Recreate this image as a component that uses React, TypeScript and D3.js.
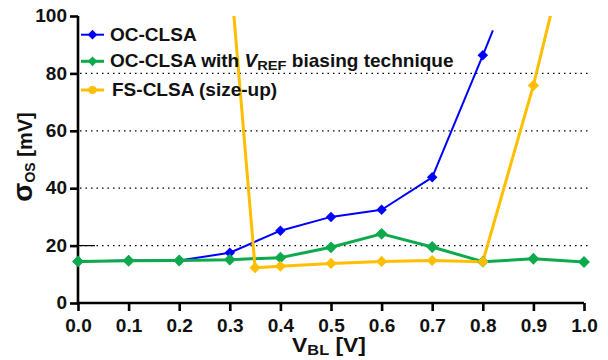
import React, { useEffect, useRef } from "react";
import * as d3 from "d3";

// sweep of bit-line voltage
const vbl = [0, 0.1, 0.2, 0.3, 0.4, 0.5, 0.6, 0.7, 0.8, 0.9, 1.0];

// OC-CLSA (blue) - last point goes off the top of the chart
const ocX = [0, 0.1, 0.2, 0.3, 0.4, 0.5, 0.6, 0.7, 0.8];
const ocVals = [14.5, 14.8, 14.8, 17.5, 25.2, 30.0, 32.5, 43.8, 86.3];
const ocTail = [0.82, 95];

// OC-CLSA with VREF biasing technique (green)
const vrefVals = [14.5, 14.7, 14.8, 15.1, 15.8, 19.4, 24.1, 19.5, 14.4, 15.4, 14.3];

// FS-CLSA (size-up) (yellow) - ends are clipped at 100
const fsX = [0.3, 0.35, 0.4, 0.5, 0.6, 0.7, 0.8, 0.9, 1.0];
const fsVals = [117, 12.3, 12.8, 13.8, 14.5, 14.8, 14.4, 75.8, 148];

const yTicks = [0, 20, 40, 60, 80, 100];
const gridVals = [20, 40, 60, 80];

const W = 608, H = 360;
const font = "'Liberation Sans', Arial, sans-serif";
const SX = 1.088; // text in the original is a bit wider than it is tall

export default function App() {
  const ref = useRef<SVGSVGElement>(null);

  useEffect(() => {
    const svg = d3.select(ref.current);
    svg.selectAll("*").remove();

    const x = d3.scaleLinear().domain([0, 1]).range([78, 584]);
    const y = d3.scaleLinear().domain([0, 100]).range([303, 16]);

    svg.append("defs").append("clipPath").attr("id", "plotClip")
      .append("rect").attr("x", 70).attr("y", 16).attr("width", 540).attr("height", 300);

    // dotted grid
    svg.append("g").selectAll("line").data(gridVals).enter().append("line")
      .attr("x1", 80).attr("x2", 588)
      .attr("y1", d => y(d)).attr("y2", d => y(d))
      .attr("stroke", "#000").attr("stroke-width", 1.2)
      .attr("stroke-dasharray", "1.5,4");

    // axes
    const yAxis = svg.append("g").attr("transform", "translate(78,0)")
      .call(d3.axisLeft(y).tickValues(yTicks).tickSize(8).tickPadding(3));
    const xAxis = svg.append("g").attr("transform", "translate(0,303)")
      .call(d3.axisBottom(x).tickValues(vbl).tickSize(8).tickPadding(8.5).tickFormat(d3.format(".1f")));
    [yAxis, xAxis].forEach(a => {
      a.select(".domain").attr("stroke-width", 2.6);
      a.selectAll(".tick line").attr("stroke-width", 2.6);
      a.selectAll("text").attr("font-family", font).attr("font-weight", "bold")
        .attr("font-size", 17.5).attr("fill", "#111")
        .attr("transform", `scale(${SX},1)`);
    });
    yAxis.selectAll(".tick text").attr("x", -11 / SX);
    yAxis.select(".domain").attr("d", `M0,${y(100)}V${y(0) + 1.3}`);
    xAxis.select(".domain").attr("d", `M${x(0) - 1.3},0H${x(1)}`);
    // small tick stub running past the axis at 20
    svg.append("line").attr("x1", 78).attr("x2", 95).attr("y1", y(20)).attr("y2", y(20))
      .attr("stroke", "#000").attr("stroke-width", 1.2);

    const plot = svg.append("g").attr("clip-path", "url(#plotClip)");
    const line = d3.line<[number, number]>().x(d => x(d[0])).y(d => y(d[1]));
    const diamond = d3.symbol().type(d3.symbolDiamond2);

    const series = [
      { pts: ocX.map((v, i) => [v, ocVals[i]] as [number, number]), extra: [ocTail as [number, number]], color: "#0000FF", w: 2, size: 70 },
      { pts: vbl.map((v, i) => [v, vrefVals[i]] as [number, number]), extra: [], color: "#0CAA4C", w: 3, size: 90 },
      { pts: fsX.map((v, i) => [v, fsVals[i]] as [number, number]), extra: [], color: "#FFBE00", w: 3, size: 80 },
    ];
    series.forEach(s => {
      plot.append("path").datum(s.pts.concat(s.extra)).attr("d", line)
        .attr("fill", "none").attr("stroke", s.color).attr("stroke-width", s.w)
        .attr("stroke-linejoin", "round");
    });
    series.forEach(s => {
      plot.append("g").selectAll("path").data(s.pts.filter(p => p[1] <= 100)).enter().append("path")
        .attr("d", diamond.size(s.size)())
        .attr("transform", d => `translate(${x(d[0])},${y(d[1])})`)
        .attr("fill", s.color);
    });

    // legend
    const leg = svg.append("g").attr("font-family", font).attr("font-weight", "bold")
      .attr("font-size", 17.5).attr("fill", "#111");
    const legItems = [
      { color: "#0000FF", y: 34.7, w: 2 },
      { color: "#0CAA4C", y: 61.3, w: 3 },
      { color: "#FFBE00", y: 90, w: 3 },
    ];
    legItems.forEach((l, i) => {
      leg.append("line").attr("x1", 81).attr("x2", 104).attr("y1", l.y).attr("y2", l.y)
        .attr("stroke", l.color).attr("stroke-width", l.w);
      if (i < 2) {
        leg.append("path").attr("d", diamond.size(60)())
          .attr("transform", `translate(92.5,${l.y})`).attr("fill", l.color);
      } else {
        leg.append("circle").attr("cx", 92.5).attr("cy", l.y).attr("r", 4).attr("fill", l.color);
      }
    });
    const label = (tx: number, ty: number) =>
      leg.append("text").attr("transform", `translate(${tx},${ty}) scale(${SX},1)`);
    label(110, 40.7).text("OC-CLSA");
    const t2 = label(110, 66.7);
    t2.append("tspan").text("OC-CLSA with ");
    t2.append("tspan").attr("font-style", "italic").text("V");
    t2.append("tspan").attr("font-size", 13.5).attr("dy", 3).text("REF");
    t2.append("tspan").attr("dy", -3).text(" biasing technique");
    label(112, 96).text("FS-CLSA (size-up)");

    // axis titles
    const yl = svg.append("text").attr("transform", "translate(32,157) rotate(-90)")
      .attr("text-anchor", "middle").attr("font-family", font).attr("font-weight", "bold")
      .attr("font-size", 20).attr("fill", "#111");
    yl.append("tspan").attr("font-size", 28).text("σ");
    yl.append("tspan").attr("font-size", 14).attr("dy", 3).text("OS");
    yl.append("tspan").attr("dy", -3).text(" [mV]");

    const xl = svg.append("text").attr("transform", `translate(329,352) scale(${SX},1)`)
      .attr("text-anchor", "middle").attr("font-family", font).attr("font-weight", "bold")
      .attr("font-size", 21).attr("fill", "#111");
    xl.append("tspan").text("V");
    xl.append("tspan").attr("font-size", 15).attr("dy", 3).text("BL");
    xl.append("tspan").attr("dy", -3).text(" [V]");
  }, []);

  return (
    <svg ref={ref} width={W} height={H} style={{ position: "absolute", left: 0, top: 0, background: "#fff" }} />
  );
}
